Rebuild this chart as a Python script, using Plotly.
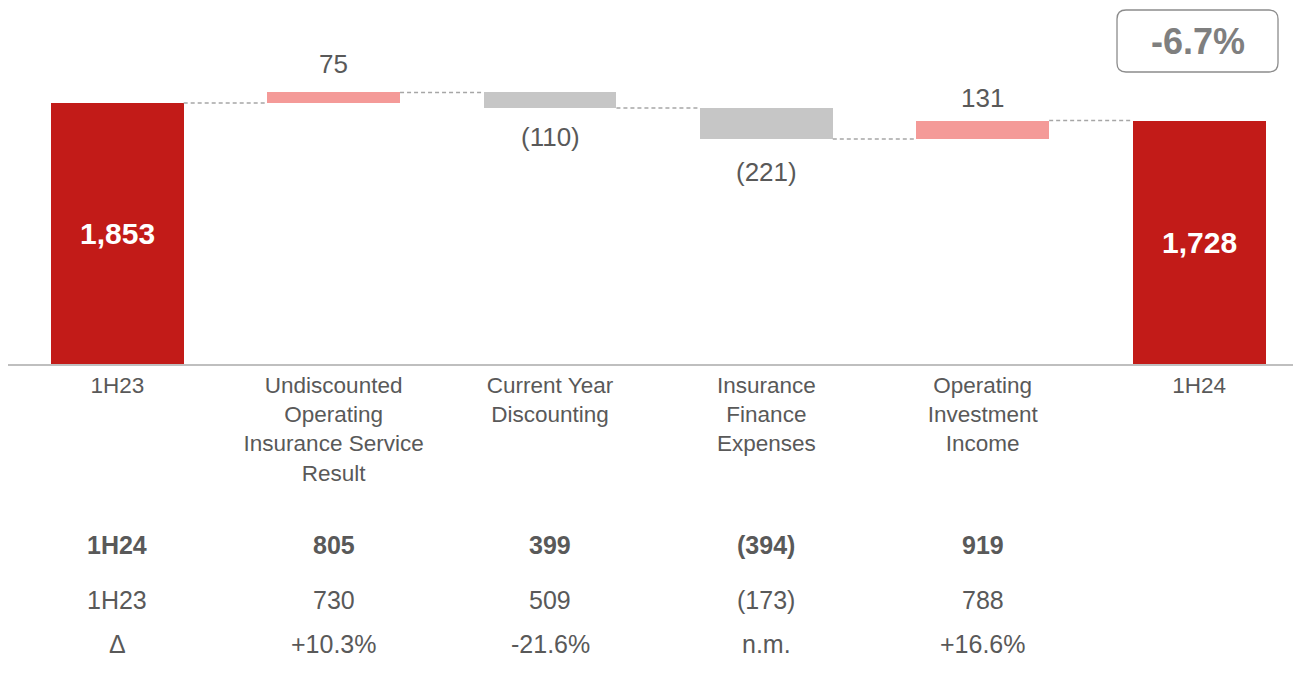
import plotly.graph_objects as go

# ---------------- data ----------------
categories = [
    "1H23",
    "Undiscounted<br>Operating<br>Insurance Service<br>Result",
    "Current Year<br>Discounting",
    "Insurance<br>Finance<br>Expenses",
    "Operating<br>Investment<br>Income",
    "1H24",
]
steps = [1853, 75, -110, -221, 131, 1728]
kinds = ["total", "delta", "delta", "delta", "delta", "total"]
value_labels = ["1,853", "75", "(110)", "(221)", "131", "1,728"]

row_1h24 = ["1H24", "805", "399", "(394)", "919", ""]
row_1h23 = ["1H23", "730", "509", "(173)", "788", ""]
row_delta = ["Δ", "+10.3%", "-21.6%", "n.m.", "+16.6%", ""]
change_label = "-6.7%"

# ---------------- styles ----------------
FONT = "Liberation Sans, Arial, sans-serif"
TXT = "#595959"
RED = "#C21B18"
PINK = "#F49A98"
GREY = "#C6C6C6"
CONN = "#A6A6A6"

W, H = 1293, 680
ML, MR, MT, MB = 8, 0, 0, 316
PW, PH = W - ML - MR, H - MT - MB
BAR_W = 0.614
LABEL_SHIFT = [0, 11, -12, -16, 6, 0]


def px_x(px):
    return (px - ML) / PW


def px_y(py):
    return (H - MB - py) / PH


# ---------------- waterfall geometry from data ----------------
bases, heights, colors, levels = [], [], [], []
running = 0
for v, k in zip(steps, kinds):
    if k == "total":
        bases.append(0)
        heights.append(v)
        colors.append(RED)
        running = v
    else:
        bases.append(running)
        heights.append(v)
        colors.append(PINK if v > 0 else GREY)
        running += v
    levels.append(running)

xs = list(range(len(categories)))

fig = go.Figure()
fig.add_trace(
    go.Bar(
        x=xs,
        y=heights,
        base=bases,
        width=BAR_W,
        marker=dict(color=colors, line=dict(width=0)),
        hoverinfo="skip",
        showlegend=False,
    )
)

annotations = []
shapes = []

# value labels
for i, (v, k, lab) in enumerate(zip(steps, kinds, value_labels)):
    if k == "total":
        annotations.append(dict(
            x=i, y=v / 2, xref="x", yref="y", text=f"<b>{lab}</b>",
            showarrow=False, xanchor="center", yanchor="middle",
            font=dict(family=FONT, size=30, color="white"),
        ))
    elif v > 0:
        annotations.append(dict(
            x=i, y=bases[i] + v, xref="x", yref="y", text=lab,
            showarrow=False, xanchor="center", yanchor="bottom", yshift=LABEL_SHIFT[i],
            font=dict(family=FONT, size=26, color=TXT),
        ))
    else:
        annotations.append(dict(
            x=i, y=bases[i] + v, xref="x", yref="y", text=lab,
            showarrow=False, xanchor="center", yanchor="top", yshift=LABEL_SHIFT[i],
            font=dict(family=FONT, size=26, color=TXT),
        ))

# connectors
for i in range(len(xs) - 1):
    shapes.append(dict(
        type="line", xref="x", yref="y",
        x0=i + BAR_W / 2, x1=i + 1 - BAR_W / 2,
        y0=levels[i], y1=levels[i],
        line=dict(color=CONN, width=1.5, dash="4px,3px"),
    ))

# table rows
for row, py, bold in [(row_1h24, 545, True), (row_1h23, 600, False), (row_delta, 644, False)]:
    for i, t in enumerate(row):
        if not t:
            continue
        annotations.append(dict(
            x=i, y=px_y(py), xref="x", yref="paper",
            text=f"<b>{t}</b>" if bold else t,
            showarrow=False, xanchor="center", yanchor="middle",
            font=dict(family=FONT, size=25, color=TXT),
        ))

# change box (rounded)
bx0, bx1, by0, by1, r = 1117, 1278, 10, 72, 9


def P(px, py):
    return f"{px_x(px):.5f},{px_y(py):.5f}"


path = (
    f"M {P(bx0 + r, by0)} L {P(bx1 - r, by0)} Q {P(bx1, by0)} {P(bx1, by0 + r)} "
    f"L {P(bx1, by1 - r)} Q {P(bx1, by1)} {P(bx1 - r, by1)} "
    f"L {P(bx0 + r, by1)} Q {P(bx0, by1)} {P(bx0, by1 - r)} "
    f"L {P(bx0, by0 + r)} Q {P(bx0, by0)} {P(bx0 + r, by0)} Z"
)
shapes.append(dict(type="path", xref="paper", yref="paper", path=path,
                   line=dict(color="#8C8C8C", width=1.3), fillcolor="rgba(0,0,0,0)"))
annotations.append(dict(
    x=px_x((bx0 + bx1) / 2), y=px_y((by0 + by1) / 2), xref="paper", yref="paper",
    text=f"<b>{change_label}</b>", showarrow=False, xanchor="center", yanchor="middle",
    font=dict(family=FONT, size=36, color="#7F7F7F"),
))

fig.update_layout(
    width=W, height=H,
    margin=dict(l=ML, r=MR, t=MT, b=MB, autoexpand=False),
    paper_bgcolor="white", plot_bgcolor="white",
    bargap=0,
    xaxis=dict(
        tickmode="array", tickvals=xs, ticktext=categories,
        range=[-0.505, 5.434], showgrid=False, zeroline=False,
        showline=True, linecolor="#BFBFBF", linewidth=1.5,
        ticks="", tickfont=dict(family=FONT, size=22.5, color=TXT),
        fixedrange=True,
    ),
    yaxis=dict(range=[0, 2584], visible=False, fixedrange=True),
    annotations=annotations,
    shapes=shapes,
    showlegend=False,
)

fig.write_html(
    "out.html",
    config={"displayModeBar": False},
    post_script="document.body.style.margin='0';",
)
